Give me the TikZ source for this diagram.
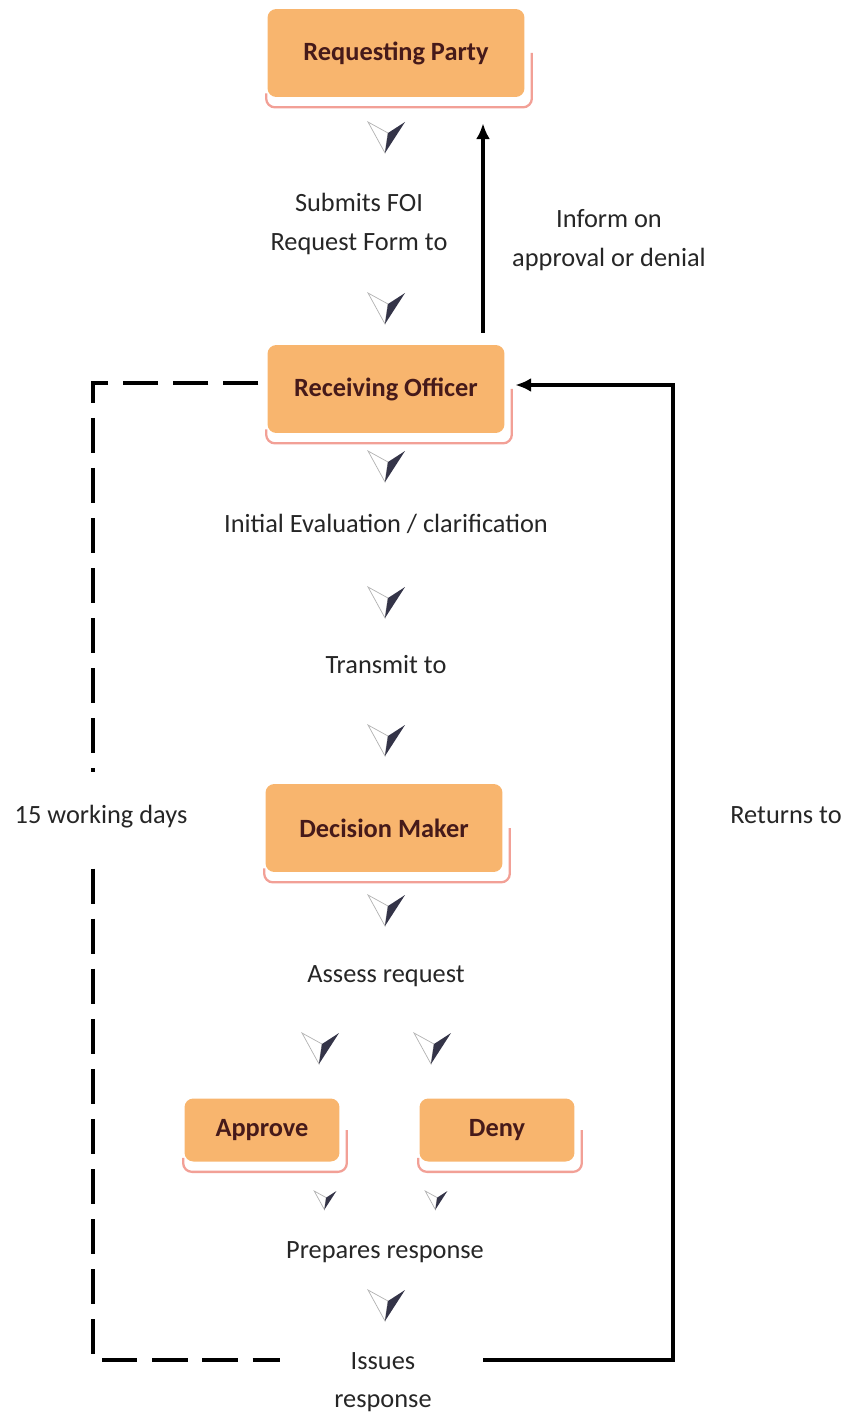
\documentclass[tikz,border=0pt]{standalone}
\usepackage{fontspec}
\setmainfont{Carlito}
\usetikzlibrary{arrows.meta,positioning,calc,backgrounds}
\definecolor{BoxOrange}{RGB}{248,181,110}
\definecolor{BoxText}{RGB}{70,26,26}
\definecolor{GlowRed}{RGB}{242,160,150}
\definecolor{TipDark}{RGB}{52,52,72}
\definecolor{LabelGray}{RGB}{38,38,38}

\tikzset{
  downtip/.pic={
    \filldraw[draw=gray!60, fill=white, line width=0.4pt] (-18,-15) -- (2,-4) -- (-1,16) -- cycle;
    \fill[TipDark] (2,-4) -- (19,-15) -- (-1,16) -- cycle;
  }
}

\begin{document}
\begin{tikzpicture}[x=0.02cm, y=-0.02cm,
    stagebox/.style={fill=BoxOrange, rounded corners=5pt, minimum height=1.76cm,
      text=BoxText, font=\fontsize{15}{18}\selectfont\bfseries},
    smallbox/.style={stagebox, minimum width=3.1cm, minimum height=1.26cm},
    steplabel/.style={align=center, text=LabelGray, font=\fontsize{15}{22}\selectfont},
    loopline/.style={line width=1.9pt},
    dashloop/.style={line width=2.2pt, dash pattern=on 20pt off 8.5pt},
  ]
  \useasboundingbox (0,0) rectangle (848,1415);

  % boxes
  \node[stagebox, minimum width=5.14cm] (req) at (396,53) {Requesting Party};
  \node[stagebox, minimum width=4.74cm] (recv) at (386,389) {Receiving Officer};
  \node[stagebox, minimum width=4.74cm] (dec) at (384,828) {Decision Maker};
  \node[smallbox] (appr) at (262,1130) {Approve};
  \node[smallbox] (deny) at (497,1130) {Deny};

  % soft glow under the boxes
  \begin{scope}[on background layer]
    \foreach \n in {req,recv,dec,appr,deny}
      \draw[GlowRed, line width=1.3pt, rounded corners=5pt]
        ($(\n.south west)+(-1,-4)$) |- ($(\n.south east)+(7,10)$) -- ($(\n.east)+(7,0)$);
  \end{scope}

  % step texts
  \node[steplabel] (submit) at (359,224) {Submits FOI\\Request Form to};
  \node[steplabel] (inform) at (609,240) {Inform on\\approval or denial};
  \node[steplabel] (evalu) at (386,524) {Initial Evaluation / clarification};
  \node[steplabel] (transmit) at (386,665) {Transmit to};
  \node[steplabel] (assess) at (386,976) {Assess request};
  \node[steplabel] (prepare) at (385,1252) {Prepares response};
  \node[steplabel] (issues) at (383,1382) {Issues\\response};
  \node[steplabel] (returns) at (786,815) {Returns to};

  % chevrons
  \pic at (386,137) {downtip};
  \pic at (386,308) {downtip};
  \pic at (386,466) {downtip};
  \pic at (386,602) {downtip};
  \pic at (386,740) {downtip};
  \pic at (386,910) {downtip};
  \pic at (320,1048) {downtip};
  \pic at (432,1048) {downtip};
  \pic[scale=0.6] at (325,1200) {downtip};
  \pic[scale=0.6] at (436,1200) {downtip};
  \pic at (386,1305) {downtip};

  % loops
  \coordinate (dashend) at (280,1360);
  \coordinate (solidstart) at (483,1360);
  \coordinate (upx) at (483,0);
  \draw[dashloop] ([xshift=-5pt]recv.west |- 0,383) -| (93,1360) -- (dashend);
  \draw[loopline, -{Latex[length=9pt,width=8pt]}] (solidstart) -| (673,385) -- ([xshift=6pt]recv.east |- 0,385);
  \draw[loopline, -{Latex[length=9pt,width=8pt]}] ($(recv.north -| upx)+(0,-12)$) -- ($(req.south -| upx)+(0,26)$);

  \node[steplabel, fill=white, minimum height=1.8cm] (days) at (101,817) {15 working days};
\end{tikzpicture}
\end{document}
